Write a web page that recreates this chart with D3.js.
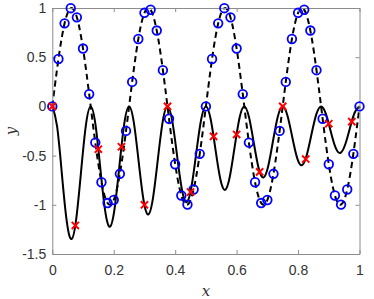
<!DOCTYPE html>
<html>
<head>
<meta charset="utf-8">
<script src="https://d3js.org/d3.v7.min.js"></script>
<style>
  html, body { margin: 0; padding: 0; background: #fff; }
  svg { display: block; }
</style>
</head>
<body>
<div id="chart"></div>
<script>
// Courbes (lues sur l'image, pas de 1/64)
const curveX = [
  0, 0.015625, 0.03125, 0.046875, 0.0625, 0.078125, 0.09375, 0.109375,
  0.125, 0.140625, 0.15625, 0.171875, 0.1875, 0.203125, 0.21875, 0.234375,
  0.25, 0.265625, 0.28125, 0.296875, 0.3125, 0.328125, 0.34375, 0.359375,
  0.375, 0.390625, 0.40625, 0.421875, 0.4375, 0.453125, 0.46875, 0.484375,
  0.5, 0.515625, 0.53125, 0.546875, 0.5625, 0.578125, 0.59375, 0.609375,
  0.625, 0.640625, 0.65625, 0.671875, 0.6875, 0.703125, 0.71875, 0.734375,
  0.75, 0.765625, 0.78125, 0.796875, 0.8125, 0.828125, 0.84375, 0.859375,
  0.875, 0.890625, 0.90625, 0.921875, 0.9375, 0.953125, 0.96875, 0.984375, 1
];
const solidY = [
  0, -0.204, -0.689, -1.164, -1.348, -1.137, -0.658, -0.190,
  0, -0.186, -0.627, -1.057, -1.223, -1.030, -0.596, -0.172,
  0, -0.168, -0.564, -0.950, -1.098, -0.924, -0.533, -0.154,
  0, -0.149, -0.502, -0.843, -0.973, -0.817, -0.471, -0.136,
  0, -0.131, -0.439, -0.737, -0.848, -0.710, -0.408, -0.117,
  0, -0.113, -0.377, -0.630, -0.723, -0.603, -0.346, -0.099,
  0, -0.094, -0.314, -0.523, -0.598, -0.497, -0.283, -0.081,
  0, -0.076, -0.252, -0.417, -0.473, -0.390, -0.221, -0.062, 0
];
const dashedY = [
  0, 0.383, 0.707, 0.924, 1, 0.924, 0.707, 0.383, 0, -0.383, -0.707, -0.924, -1, -0.924, -0.707, -0.383,
  0, 0.383, 0.707, 0.924, 1, 0.924, 0.707, 0.383, 0, -0.383, -0.707, -0.924, -1, -0.924, -0.707, -0.383,
  0, 0.383, 0.707, 0.924, 1, 0.924, 0.707, 0.383, 0, -0.383, -0.707, -0.924, -1, -0.924, -0.707, -0.383,
  0, 0.383, 0.707, 0.924, 1, 0.924, 0.707, 0.383, 0, -0.383, -0.707, -0.924, -1, -0.924, -0.707, -0.383,
  0
];

// Cercles bleus
const circleX = [
  0, 0.02, 0.04, 0.06, 0.08, 0.1, 0.12, 0.14, 0.16, 0.18, 0.2, 0.22, 0.24,
  0.26, 0.28, 0.3, 0.32, 0.34, 0.36, 0.38, 0.4, 0.42, 0.44, 0.46, 0.48, 0.5,
  0.52, 0.54, 0.56, 0.58, 0.6, 0.62, 0.64, 0.66, 0.68, 0.7, 0.72, 0.74,
  0.76, 0.78, 0.8, 0.82, 0.84, 0.86, 0.88, 0.9, 0.92, 0.94, 0.96, 0.98, 1
];
const circleY = [
  0, 0.482, 0.844, 0.998, 0.905, 0.588, 0.125, -0.368, -0.771, -0.982, -0.951, -0.685, -0.249,
  0.249, 0.685, 0.951, 0.982, 0.771, 0.368, -0.125, -0.588, -0.905, -0.998, -0.844, -0.482, 0,
  0.482, 0.844, 0.998, 0.905, 0.588, 0.125, -0.368, -0.771, -0.982, -0.951, -0.685, -0.249,
  0.249, 0.685, 0.951, 0.982, 0.771, 0.368, -0.125, -0.588, -0.905, -0.998, -0.844, -0.482, 0
];

// Croix rouges
const crossX = [0, 0.075, 0.15, 0.225, 0.3, 0.375, 0.45, 0.525, 0.6, 0.675, 0.75, 0.825, 0.9, 0.975];
const crossY = [0, -1.21, -0.435, -0.41, -1.0, 0, -0.87, -0.305, -0.285, -0.665, 0, -0.535, -0.176, -0.155];

// Graduations
const xTicks = [0, 0.2, 0.4, 0.6, 0.8, 1];
const xTickLabels = ['0', '0.2', '0.4', '0.6', '0.8', '1'];
const yTicks = [-1.5, -1, -0.5, 0, 0.5, 1];
const yTickLabels = ['-1.5', '-1', '-0.5', '0', '0.5', '1'];

const width = 374, height = 299;
const margin = { top: 8, right: 14.5, bottom: 45, left: 52.3 };
const innerW = width - margin.left - margin.right;
const innerH = height - margin.top - margin.bottom;

const svg = d3.select('#chart').append('svg')
  .attr('width', width)
  .attr('height', height);

const g = svg.append('g')
  .attr('transform', `translate(${margin.left},${margin.top})`);

const xScale = d3.scaleLinear().domain([0, 1]).range([0, innerW]);
const yScale = d3.scaleLinear().domain([-1.5, 1]).range([innerH, 0]);

g.append('clipPath').attr('id', 'clip')
  .append('rect').attr('x', -2).attr('y', -2).attr('width', innerW + 4).attr('height', innerH + 4);

const plot = g.append('g').attr('clip-path', 'url(#clip)');

const line = d3.line()
  .x(i => xScale(curveX[i]))
  .curve(d3.curveNatural);

const idx = d3.range(curveX.length);

plot.append('path')
  .attr('d', line.y(i => yScale(dashedY[i]))(idx))
  .attr('fill', 'none')
  .attr('stroke', '#000')
  .attr('stroke-width', 2)
  .attr('stroke-dasharray', '6,4');

plot.append('path')
  .attr('d', line.y(i => yScale(solidY[i]))(idx))
  .attr('fill', 'none')
  .attr('stroke', '#000')
  .attr('stroke-width', 2);

// Axes (boîte, graduations vers l'intérieur)
const axisStyle = sel => {
  sel.selectAll('.domain').attr('stroke', '#8c8c8c').attr('stroke-width', 1);
  sel.selectAll('.tick line').attr('stroke', '#8c8c8c');
  sel.selectAll('text').attr('fill', '#333').style('font-family', 'Liberation Sans, Arial, sans-serif').style('font-size', '14px');
};

g.append('g')
  .attr('transform', `translate(0,${innerH})`)
  .call(d3.axisBottom(xScale).tickValues(xTicks).tickFormat((d, i) => xTickLabels[i])
    .tickSizeInner(-4).tickSizeOuter(0).tickPadding(11))
  .call(axisStyle);

g.append('g')
  .call(d3.axisTop(xScale).tickValues(xTicks).tickFormat('')
    .tickSizeInner(-4).tickSizeOuter(0))
  .call(axisStyle);

g.append('g')
  .call(d3.axisLeft(yScale).tickValues(yTicks).tickFormat((d, i) => yTickLabels[i])
    .tickSizeInner(-4).tickSizeOuter(0).tickPadding(6))
  .call(axisStyle);

g.append('g')
  .attr('transform', `translate(${innerW},0)`)
  .call(d3.axisRight(yScale).tickValues(yTicks).tickFormat('')
    .tickSizeInner(-4).tickSizeOuter(0))
  .call(axisStyle);

// Marqueurs
g.selectAll('.circ')
  .data(d3.range(circleX.length))
  .enter()
  .append('circle')
  .attr('cx', i => xScale(circleX[i]))
  .attr('cy', i => yScale(circleY[i]))
  .attr('r', 4.3)
  .attr('fill', 'none')
  .attr('stroke', '#0000ff')
  .attr('stroke-width', 1.8);

const s = 3.6;
g.selectAll('.cross')
  .data(d3.range(crossX.length))
  .enter()
  .append('path')
  .attr('transform', i => `translate(${xScale(crossX[i])},${yScale(crossY[i])})`)
  .attr('d', `M${-s},${-s}L${s},${s}M${-s},${s}L${s},${-s}`)
  .attr('stroke', '#ff0000')
  .attr('stroke-width', 2)
  .attr('fill', 'none');

// Titres des axes
svg.append('text')
  .attr('x', margin.left + innerW / 2)
  .attr('y', 296)
  .attr('text-anchor', 'middle')
  .style('font-family', 'DejaVu Serif, serif')
  .style('font-style', 'italic')
  .style('font-size', '15px')
  .attr('fill', '#333')
  .text('x');

svg.append('text')
  .attr('transform', `translate(16,${margin.top + innerH / 2}) rotate(-90)`)
  .attr('text-anchor', 'middle')
  .style('font-family', 'DejaVu Serif, serif')
  .style('font-style', 'italic')
  .style('font-size', '15px')
  .attr('fill', '#333')
  .text('y');
</script>
</body>
</html>
